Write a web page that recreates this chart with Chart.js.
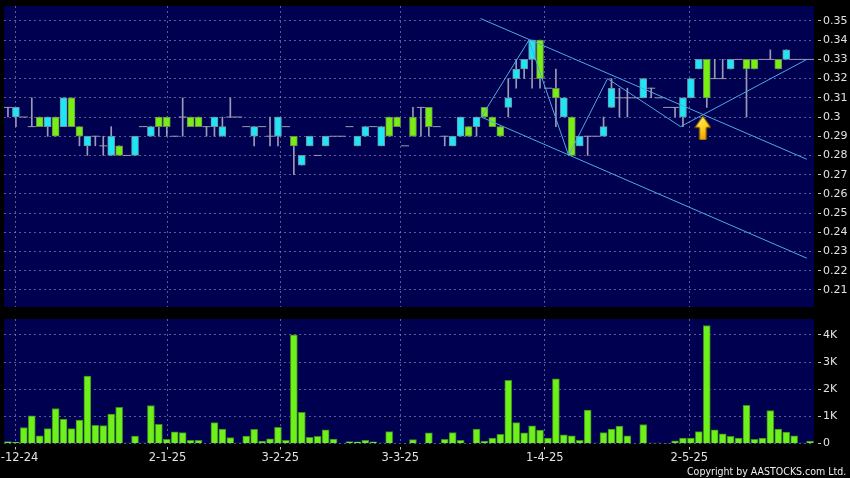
<!DOCTYPE html>
<html>
<head>
<meta charset="utf-8">
<script src="https://cdn.jsdelivr.net/npm/chart.js@4.4.1/dist/chart.umd.min.js"></script>
<style>
html,body{margin:0;padding:0;background:#000;}
#wrap{position:relative;width:850px;height:478px;overflow:hidden;background:#000;}
#priceChart{position:absolute;left:0;top:0;}
#volChart{position:absolute;left:0;top:312px;}
#copy{position:absolute;left:687px;top:465px;font-family:"DejaVu Sans",sans-serif;font-size:11px;line-height:13px;color:#eee;white-space:nowrap;transform:scaleX(0.86);transform-origin:0 0;}
</style>
</head>
<body>
<div id="wrap">
  <canvas id="priceChart" width="850" height="312"></canvas>
  <canvas id="volChart" width="850" height="166"></canvas>
  <div id="copy">Copyright by AASTOCKS.com Ltd.</div>
</div>
<script>
// ==== DATA (one slot per trading day, k = 0..101) ====
const open = [
  .305,.30,.30,.295,.30,.295,.30,.295,.31,.295,
  .285,.29,.285,.28,.285,.28,.28,.295,.29,.30,
  .30,.29,.30,.30,.30,.295,.295,.29,.30,.30,
  .295,.29,.295,.29,.29,.295,.29,.275,.285,.28,
  .285,.29,.29,.295,.285,.29,.295,.285,.30,.30,
  .285,.30,.305,.305,.295,.29,.285,.29,.295,.295,
  .305,.30,.295,.305,.32,.325,.33,.34,.315,.315,
  .30,.30,.285,.29,.29,.29,.305,.31,.31,.31,
  .31,.315,.31,.305,.305,.30,.31,.325,.33,.32,
  .32,.325,.33,.33,.33,.33,.33,.33,.33,.33,
  .33,.33
];
const high = [
  .305,.305,.30,.31,.30,.30,.30,.31,.31,.295,
  .29,.29,.29,.295,.285,.28,.29,.295,.295,.30,
  .30,.29,.31,.30,.30,.295,.30,.30,.31,.30,
  .295,.295,.295,.30,.30,.295,.29,.28,.29,.28,
  .29,.29,.29,.295,.29,.295,.295,.295,.30,.30,
  .285,.305,.305,.305,.295,.29,.29,.30,.295,.30,
  .305,.30,.295,.32,.33,.33,.34,.34,.315,.325,
  .31,.30,.29,.29,.29,.30,.32,.315,.315,.31,
  .32,.315,.31,.305,.305,.31,.32,.33,.33,.33,
  .33,.33,.33,.33,.33,.33,.335,.33,.335,.33,
  .33,.33
];
const low = [
  .30,.295,.30,.295,.295,.29,.29,.295,.295,.285,
  .28,.285,.28,.28,.28,.28,.28,.295,.29,.29,
  .29,.29,.29,.295,.295,.29,.29,.29,.30,.30,
  .295,.285,.295,.285,.285,.295,.27,.275,.285,.28,
  .285,.29,.29,.295,.285,.29,.295,.285,.29,.295,
  .285,.29,.29,.29,.295,.285,.285,.29,.29,.29,
  .30,.295,.29,.30,.315,.32,.315,.315,.315,.295,
  .30,.28,.285,.28,.29,.29,.305,.30,.30,.31,
  .31,.31,.31,.305,.30,.295,.31,.325,.305,.32,
  .32,.325,.33,.30,.325,.33,.33,.325,.33,.33,
  .33,.33
];
const close = [
  .305,.305,.30,.295,.295,.30,.29,.31,.295,.29,
  .29,.29,.285,.29,.28,.28,.29,.295,.295,.295,
  .295,.29,.30,.295,.295,.295,.30,.295,.30,.30,
  .295,.295,.295,.29,.30,.295,.285,.28,.29,.28,
  .29,.29,.29,.295,.29,.295,.295,.295,.29,.295,
  .285,.29,.305,.295,.295,.29,.29,.30,.29,.30,
  .30,.295,.29,.31,.325,.33,.34,.32,.315,.31,
  .31,.28,.29,.29,.29,.295,.315,.31,.31,.31,
  .32,.315,.31,.305,.305,.31,.32,.33,.31,.32,
  .32,.33,.33,.325,.325,.33,.33,.325,.335,.33,
  .33,.33
];
const volume = [
  70,50,590,1020,280,550,1290,900,550,860,
  2480,670,660,1080,1330,20,270,20,1400,710,
  150,430,400,120,120,0,770,530,220,20,
  270,520,90,170,600,120,4000,1150,230,260,
  500,160,0,70,60,120,60,20,440,0,
  0,140,0,390,0,150,400,120,0,530,
  90,200,340,2330,770,390,650,490,200,2380,
  320,280,120,1230,20,400,530,640,280,0,
  700,20,20,10,100,200,200,440,4340,500,
  360,260,200,1410,150,200,1210,530,420,280,
  20,90
];

// axis labels
const dateTickPos    = [1.0, 20.1, 34.3, 49.4, 67.6, 85.8];
const dateTickLabels = ["2-12-24", "2-1-25", "3-2-25", "3-3-25", "1-4-25", "2-5-25"];
const priceTicks = [0.35,0.34,0.33,0.32,0.31,0.30,0.29,0.28,0.27,0.26,0.25,0.24,0.23,0.22,0.21];
const volTicks      = [0, 1000, 2000, 3000, 4000];
const volTickLabels = ["0", "1K", "2K", "3K", "4K"];

// drawn trend lines (slot, price)
const channelUpper = [[59.5, 0.3513], [100.6, 0.278]];
const channelLower = [[59.6, 0.30],   [100.6, 0.2265]];
const zigzag = [[59.6, 0.30], [65.6, 0.34], [70.6, 0.28], [75.5, 0.32], [84.7, 0.295], [100.6, 0.33]];
const arrowAt = [87.5, 0.2943];

// scale ranges
const X_MIN = -0.5, X_MAX = 101.5;
const PRICE_MIN = 0.2011, PRICE_MAX = 0.3578;
const VOL_MAX = 4586;

// ==== STYLE ====
Chart.defaults.font.family = "'DejaVu Sans', sans-serif";
const NAVY = "#000050";
const GRID = "rgba(150,150,195,0.6)";
const TICKC = "#c4c4c4";
const LABELC = "#e2e2e2";
const LINEBLUE = "#4fa8e4";
const WICK = "#9a9ab2";

const navyBg = {
  id: "navyBg",
  beforeDraw(chart){
    const a = chart.chartArea, c = chart.ctx;
    c.save();
    c.fillStyle = NAVY;
    c.fillRect(a.left, a.top, a.right - a.left, a.bottom - a.top);
    c.restore();
  }
};

function makeArrow(){
  const c = document.createElement("canvas");
  c.width = 17; c.height = 25;
  const g = c.getContext("2d");
  const grad = g.createLinearGradient(0, 0, 17, 25);
  grad.addColorStop(0, "#fff38a");
  grad.addColorStop(0.5, "#ffd21a");
  grad.addColorStop(1, "#e08c00");
  g.beginPath();
  g.moveTo(8.5, 0.5); g.lineTo(16.5, 12); g.lineTo(12, 12); g.lineTo(12, 24.5);
  g.lineTo(5, 24.5); g.lineTo(5, 12); g.lineTo(0.5, 12); g.closePath();
  g.fillStyle = grad; g.fill();
  g.strokeStyle = "#6b4a00"; g.lineWidth = 1; g.stroke();
  return c;
}

const pts = arr => arr.map(p => ({x: p[0], y: p[1]}));
const idx = open.map((_, i) => i);

const wickData = idx.filter(i => high[i] > low[i]).map(i => ({x: i, y: [low[i], high[i]]}));
const upData   = idx.filter(i => close[i] > open[i]).map(i => ({x: i, y: [open[i], close[i]]}));
const downData = idx.filter(i => close[i] < open[i]).map(i => ({x: i, y: [close[i], open[i]]}));
const flatData = idx.filter(i => close[i] === open[i]).map(i => ({x: i, y: close[i]}));
const volData  = idx.filter(i => volume[i] > 0).map(i => ({x: i, y: volume[i]}));

function xScale(showLabels){
  return {
    type: "linear", min: X_MIN, max: X_MAX, offset: false,
    afterBuildTicks: s => { s.ticks = dateTickPos.map(v => ({value: v})); },
    afterFit: s => { s.height = showLabels ? 34.5 : 0; s.paddingLeft = 0; s.paddingRight = 0; },
    ticks: {
      display: showLabels, color: LABELC, font: {size: 11.5}, padding: 2,
      autoSkip: false, maxRotation: 0, minRotation: 0,
      callback: (v, i) => dateTickLabels[i]
    },
    grid: {
      offset: false, color: GRID, drawTicks: showLabels, tickColor: TICKC,
      tickLength: 6, tickBorderDash: [3, 3], tickBorderDashOffset: 3
    },
    border: {display: false, dash: [2, 3]}
  };
}

function yScale(min, max, ticks, fmt){
  return {
    position: "right", min, max, stacked: false,
    afterBuildTicks: s => { s.ticks = ticks.map(v => ({value: v})); },
    afterFit: s => { s.width = 36; s.paddingTop = 0; s.paddingBottom = 0; },
    ticks: {color: LABELC, font: {size: 11}, padding: 2, autoSkip: false, callback: fmt},
    grid: {color: GRID, tickColor: TICKC, tickLength: 7, tickBorderDash: [3, 4], tickBorderDashOffset: 3},
    border: {display: false, dash: [2, 3]}
  };
}

const common = {
  responsive: false, animation: false, events: [],
  plugins: {legend: {display: false}, tooltip: {enabled: false}}
};

// ==== price chart ====
new Chart(document.getElementById("priceChart"), {
  type: "bar",
  data: { datasets: [
    { type: "scatter", data: [{x: arrowAt[0], y: arrowAt[1]}], pointStyle: makeArrow(), pointRadius: 8, order: 0 },
    { type: "line", data: pts(zigzag), borderColor: LINEBLUE, borderWidth: 1, pointRadius: 0, tension: 0, order: 1 },
    { type: "line", data: pts(channelUpper), borderColor: LINEBLUE, borderWidth: 1, pointRadius: 0, order: 1 },
    { type: "line", data: pts(channelLower), borderColor: LINEBLUE, borderWidth: 1, pointRadius: 0, order: 1 },
    { data: upData, stack: "c", barThickness: 7, backgroundColor: "#1fe6f6", borderColor: "#6d95a2", borderWidth: 1, borderSkipped: false, order: 3 },
    { data: downData, stack: "c", barThickness: 7, backgroundColor: "#78ee12", borderColor: "#6a8c52", borderWidth: 1, borderSkipped: false, order: 3 },
    { type: "scatter", data: flatData, pointStyle: "line", pointRadius: 4, borderColor: WICK, borderWidth: 1, order: 4 },
    { data: wickData, stack: "c", barThickness: 1, backgroundColor: WICK, borderWidth: 0, order: 5 }
  ]},
  options: Object.assign({}, common, {
    layout: {autoPadding: false, padding: {left: 4, top: 6, right: 0, bottom: 5}},
    scales: {
      x: xScale(false),
      y: yScale(PRICE_MIN, PRICE_MAX, priceTicks, v => String(+v.toFixed(2)))
    }
  }),
  plugins: [navyBg]
});

// ==== volume chart ====
new Chart(document.getElementById("volChart"), {
  type: "bar",
  data: { datasets: [
    { data: volData, stack: "c", barThickness: 7, backgroundColor: "#6ef01a", borderColor: "#3d8a1e", borderWidth: 1 }
  ]},
  options: Object.assign({}, common, {
    layout: {autoPadding: false, padding: {left: 4, top: 7, right: 0, bottom: 0}},
    scales: {
      x: xScale(true),
      y: yScale(0, VOL_MAX, volTicks, (v, i) => volTickLabels[i])
    }
  }),
  plugins: [navyBg]
});
</script>
</body>
</html>
